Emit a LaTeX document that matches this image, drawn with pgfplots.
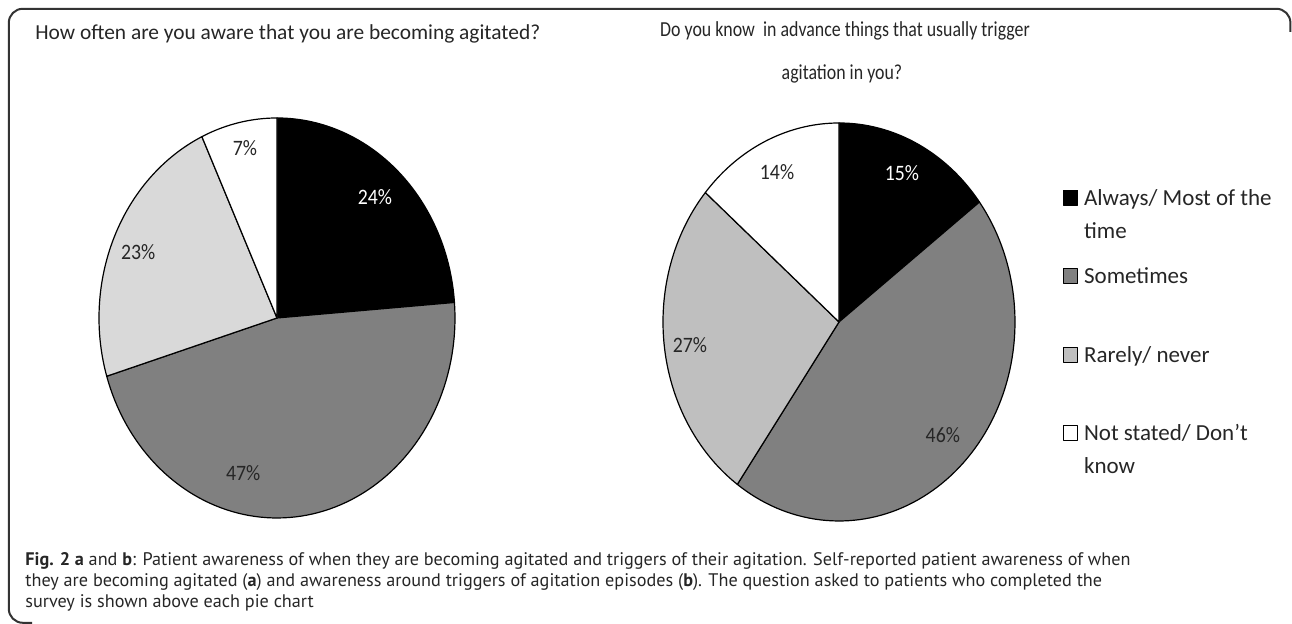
\documentclass[border=0pt]{standalone}
\usepackage{pgfplots}
\pgfplotsset{compat=1.18}
\usepackage{graphicx}
\usepackage{fontspec}
\setmainfont{Carlito}
\newfontfamily\capfont{PT Sans}
\definecolor{sgray}{HTML}{808080}
\definecolor{lgA}{HTML}{D9D9D9}
\definecolor{lgB}{HTML}{BFBFBF}
\definecolor{txt}{HTML}{262626}

% #1 sum of the values before this slice, #2 value, #3 total, #4 fill colour
\newcommand{\pieslice}[4]{%
  \pgfmathsetmacro\pa{90-(#1)/(#3)*360}%
  \pgfmathsetmacro\pb{90-((#1)+(#2))/(#3)*360}%
  \edef\doslice{\noexpand\addplot[fill=#4,draw=black,line width=0.6pt,line join=round,
     domain=\pb:\pa,samples=90,variable=\noexpand\t]
     ({cos(\noexpand\t)},{sin(\noexpand\t)}) -- (axis cs:0,0) -- cycle;}%
  \doslice}
\newcommand{\lab}[1]{\scalebox{0.9}[1]{#1}}

\begin{document}
\begin{tikzpicture}
% frame
\draw[line width=1pt, color=black!80, rounded corners=7pt]
  (16pt,0.6pt) -- (4.4pt,0.6pt) -- (4.4pt,307.6pt) -- (645.2pt,307.6pt) -- (645.2pt,296pt);

% titles
\node[anchor=base west, inner sep=0, text=txt, font=\fontsize{10.7}{13}\selectfont]
  at (17.5pt,292pt) {How often are you aware that you are becoming agitated?};
\node[anchor=base, inner sep=0, text=txt, font=\fontsize{10.7}{13}\selectfont]
  at (422.5pt,293.7pt) {\scalebox{0.835}[1]{Do you know\ \ in advance things that usually trigger}};
\node[anchor=base, inner sep=0, text=txt, font=\fontsize{10.7}{13}\selectfont]
  at (421pt,272.2pt) {\scalebox{0.835}[1]{agitation in you?}};

% pie a: Always/Most 24, Sometimes 47, Rarely/never 23, Not stated 7
\begin{axis}[at={(138.5pt,153pt)}, anchor=center, scale only axis,
  width=178pt, height=200pt, xmin=-1, xmax=1, ymin=-1, ymax=1,
  hide axis, clip=false]
  \pieslice{0}{24}{101}{black}
  \pieslice{24}{47}{101}{sgray}
  \pieslice{71}{23}{101}{lgA}
  \pieslice{94}{7}{101}{white}
  \begin{scope}[font=\fontsize{11}{13}\selectfont]
  \node[text=white] at (axis cs:0.55,0.605) {\lab{24\%}};
  \node[text=txt] at (axis cs:-0.19,-0.775) {\lab{47\%}};
  \node[text=txt] at (axis cs:-0.78,0.33) {\lab{23\%}};
  \node[text=txt] at (axis cs:-0.18,0.85) {\lab{7\%}};
  \end{scope}
\end{axis}

% pie b: Always/Most 15, Sometimes 46, Rarely/never 27, Not stated 14
\begin{axis}[at={(419.5pt,151pt)}, anchor=center, scale only axis,
  width=176pt, height=199pt, xmin=-1, xmax=1, ymin=-1, ymax=1,
  hide axis, clip=false,
  legend image code/.code={\draw[#1,draw=black,line width=0.4pt] (0pt,0pt) rectangle (7pt,7.5pt);},
  legend style={at={(1.136,0.852)}, anchor=north west, draw=none, fill=none,
     inner sep=0pt, row sep=26.2pt, column sep=3pt, text=txt,
     font=\fontsize{11.5}{16.5}\selectfont,
     cells={anchor=base west}, nodes={inner sep=0pt}}]
  \pieslice{0}{15}{102}{black}
  \pieslice{15}{46}{102}{sgray}
  \pieslice{61}{27}{102}{lgB}
  \pieslice{88}{14}{102}{white}
  \begin{scope}[font=\fontsize{11}{13}\selectfont]
  \node[text=white] at (axis cs:0.358,0.749) {\lab{15\%}};
  \node[text=txt] at (axis cs:-0.352,0.754) {\lab{14\%}};
  \node[text=txt] at (axis cs:-0.847,-0.116) {\lab{27\%}};
  \node[text=txt] at (axis cs:0.59,-0.568) {\lab{46\%}};
  \end{scope}
  \legend{\parbox[t]{110pt}{\strut Always/ Most of the\\\strut time},
          \parbox[t]{110pt}{\strut Sometimes},
          \parbox[t]{110pt}{\strut Rarely/ never},
          \parbox[t]{110pt}{\strut Not stated/ Don't\\\strut know}}
\end{axis}

% caption
\node[anchor=base west, inner sep=0, text=txt, font=\capfont\fontsize{9.1}{10.5}\selectfont]
  at (12.5pt,29pt) {\parbox[t]{630pt}{\raggedright
  \textbf{Fig. 2 a} and \textbf{b}: Patient awareness of when they are becoming agitated and triggers of their agitation. Self-reported patient awareness of when\\
  they are becoming agitated (\textbf{a}) and awareness around triggers of agitation episodes (\textbf{b}). The question asked to patients who completed the\\
  survey is shown above each pie chart}};

\pgfresetboundingbox
\useasboundingbox (0,0) rectangle (646pt,312pt);
\end{tikzpicture}
\end{document}
